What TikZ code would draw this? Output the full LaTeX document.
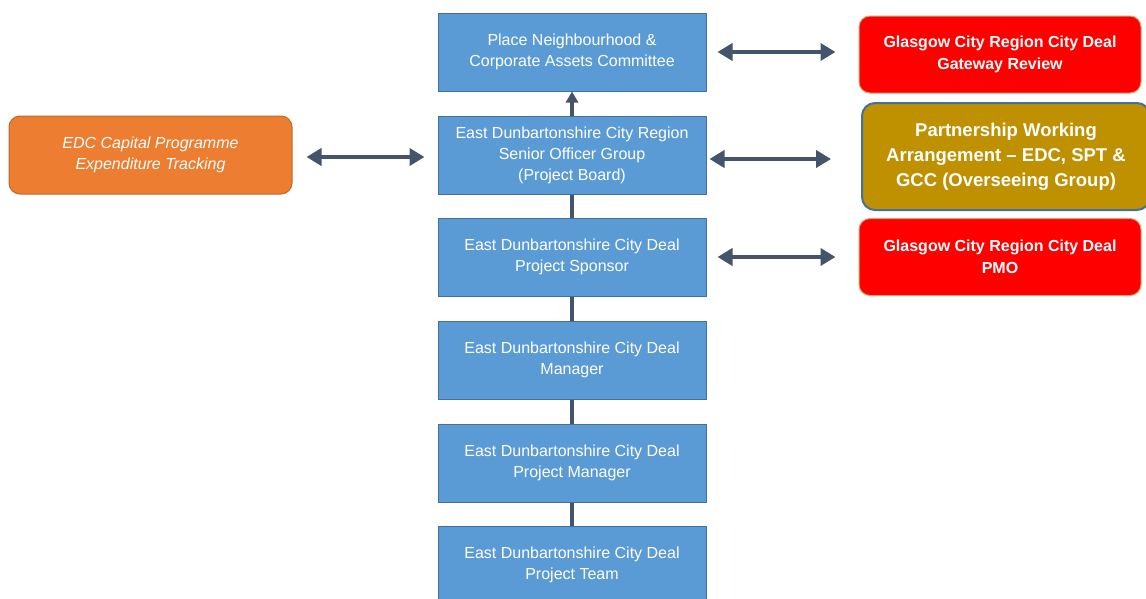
\documentclass[tikz,border=0pt]{standalone}
\usepackage{fontspec}
\setmainfont{Liberation Sans}
\usetikzlibrary{arrows.meta}
\definecolor{boxblue}{HTML}{5B9BD5}
\definecolor{boxborder}{HTML}{41719C}
\definecolor{arrowcol}{HTML}{44546A}
\definecolor{redfill}{HTML}{FF0000}
\definecolor{redborder}{HTML}{D9A070}
\definecolor{goldfill}{HTML}{BF9000}
\definecolor{orangefill}{HTML}{ED7D31}
\definecolor{orangeborder}{HTML}{C0692A}
\tikzset{
  bluebox/.style={draw=boxborder, fill=boxblue, line width=1pt, minimum width=268pt, minimum height=78pt, inner sep=0pt, text=white, align=center, font=\fontsize{16}{21}\selectfont},
  redbox/.style={draw=redborder, fill=redfill, line width=1pt, rounded corners=11pt, minimum width=282pt, minimum height=77pt, inner sep=0pt, text=white, align=center, font=\bfseries\fontsize{16}{21.5}\selectfont},
  goldbox/.style={draw=boxborder, fill=goldfill, line width=2pt, rounded corners=13pt, minimum width=288pt, minimum height=107pt, inner sep=0pt, text=white, align=center, font=\bfseries\fontsize{18.5}{25}\selectfont},
  orangebox/.style={draw=orangeborder, fill=orangefill, line width=1pt, rounded corners=11pt, minimum width=283pt, minimum height=78pt, inner sep=0pt, text=white, align=center, font=\itshape\fontsize{16}{21.5}\selectfont},
  dblarrow/.style={draw=arrowcol, line width=4pt, {Triangle[width=17pt,length=15pt]}-{Triangle[width=17pt,length=15pt]}},
  uparrow/.style={draw=arrowcol, line width=3.5pt, -{Triangle[width=12pt,length=11pt]}},
  vline/.style={draw=arrowcol, line width=3.5pt}
}
\begin{document}
\begin{tikzpicture}[x=1pt,y=-1pt]
\useasboundingbox (0,0) rectangle (1146,598);
\node[bluebox] (b1) at (572,52) {Place Neighbourhood \&\\Corporate Assets Committee};
\node[bluebox] (b2) at (572,155) {East Dunbartonshire City Region\\Senior Officer Group\\(Project Board)};
\node[bluebox] (b3) at (572,257) {East Dunbartonshire City Deal\\Project Sponsor};
\node[bluebox] (b4) at (572,360) {East Dunbartonshire City Deal\\Manager};
\node[bluebox] (b5) at (572,463) {East Dunbartonshire City Deal\\Project Manager};
\node[bluebox] (b6) at (572,565) {East Dunbartonshire City Deal\\Project Team};
\node[redbox] (r1) at (1000,54.5) {Glasgow City Region City Deal\\Gateway Review};
\node[goldbox] (g1) at (1006,156.5) {Partnership Working\\Arrangement -- EDC, SPT \&\\GCC (Overseeing Group)};
\node[redbox] (r2) at (1000,257) {Glasgow City Region City Deal\\PMO};
\node[orangebox] (o1) at (150.5,155) {EDC Capital Programme\\Expenditure Tracking};
\draw[vline] (b2.south) -- (b3.north);
\draw[vline] (b3.south) -- (b4.north);
\draw[vline] (b4.south) -- (b5.north);
\draw[vline] (b5.south) -- (b6.north);
\draw[uparrow] (b2.north) -- (b1.south);
\draw[dblarrow] ([xshift=11pt]b1.east) -- ([xshift=-23pt]b1.east -| r1.west);
\draw[dblarrow] ([xshift=3pt,yshift=-4pt]b2.east) -- ([xshift=-30pt,yshift=-4pt]b2.east -| g1.west);
\draw[dblarrow] ([xshift=11pt]b3.east) -- ([xshift=-23pt]b3.east -| r2.west);
\draw[dblarrow] ([xshift=14pt,yshift=-2pt]o1.east) -- ([xshift=-13pt,yshift=-2pt]b2.west);
\end{tikzpicture}
\end{document}
